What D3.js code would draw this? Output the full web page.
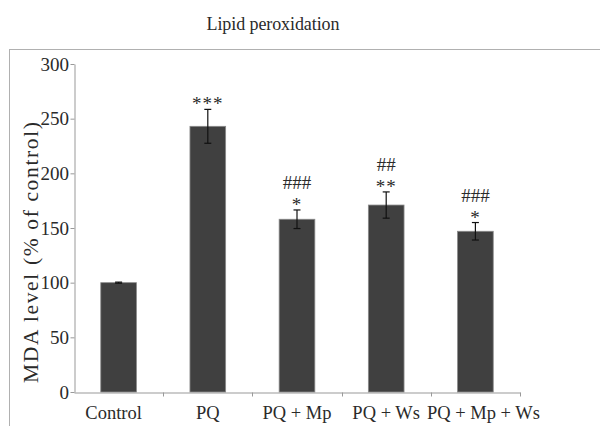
<!DOCTYPE html>
<html>
<head>
<meta charset="utf-8">
<script src="https://cdn.jsdelivr.net/npm/d3@7"></script>
<style>
  body { margin: 0; background: #fff; }
  text { font-family: "Liberation Serif", "Times New Roman", serif; fill: #2a2a2a; }
</style>
</head>
<body>
<script>
// data
const a_groups = ["Control", "PQ", "PQ + Mp", "PQ + Ws", "PQ + Mp + Ws"];
const a_means = [100, 243, 158, 171, 147];
const a_errors = [0.5, 15.5, 8.5, 12, 8];
const a_stars = ["", "***", "*", "**", "*"];
const a_hashes = ["", "", "###", "##", "###"];
const a_y_ticks = [0, 50, 100, 150, 200, 250, 300];

const v_width = 600, v_height = 426;
const d_plot = {left: 74, right: 520, top: 64, bottom: 392};
const v_font = "'Liberation Serif', 'Times New Roman', serif";

const svg = d3.select("body").append("svg")
    .attr("width", v_width)
    .attr("height", v_height);

// outer frame (only left and top edges are inside the window)
svg.append("rect")
    .attr("x", 9.5).attr("y", 49.5)
    .attr("width", 700).attr("height", 500)
    .attr("fill", "none")
    .attr("stroke", "#b0b0b0");

svg.append("text")
    .attr("x", 273).attr("y", 30)
    .attr("text-anchor", "middle")
    .attr("textLength", 133)
    .attr("lengthAdjust", "spacing")
    .style("font-size", "18px")
    .text("Lipid peroxidation");

var x_bc = d3.scaleBand().domain(a_groups).range([d_plot.left, d_plot.right]);
var y_bc = d3.scaleLinear().domain([0, 300]).range([d_plot.bottom, d_plot.top]);

// y axis
const y_axis_group = svg.append("g")
    .attr("transform", `translate(${d_plot.left + 0.5}, 0)`)
    .call(d3.axisLeft(y_bc).tickValues(a_y_ticks).tickSize(4).tickPadding(1.5).tickSizeOuter(0));
y_axis_group.attr("font-family", v_font);
y_axis_group.select(".domain").attr("stroke", "#999");
y_axis_group.selectAll(".tick line").attr("stroke", "#999");
y_axis_group.selectAll(".tick text")
    .style("font-size", "19px");

// x axis, labels at band centres, tick marks at band edges
const x_axis_group = svg.append("g")
    .attr("transform", `translate(0, ${d_plot.bottom + 0.5})`)
    .call(d3.axisBottom(x_bc).tickSize(0).tickPadding(13).tickSizeOuter(0));
x_axis_group.attr("font-family", v_font);
x_axis_group.select(".domain").attr("stroke", "#999");
x_axis_group.selectAll(".tick text")
    .style("font-size", "18.5px")
    .attr("dx", function(d, i) {
        // first and last labels sit slightly off centre in the original
        if (i == 0) return -5;
        if (i == a_groups.length - 1) return 8;
        return 0;
    });

x_axis_group.selectAll(".edge")
    .data(a_groups.slice(1).concat(["end"]))
    .enter().append("line")
    .attr("class", "edge")
    .attr("x1", function(d, i) { return Math.round(d_plot.left + x_bc.step() * (i + 1)) + 0.5; })
    .attr("x2", function(d, i) { return Math.round(d_plot.left + x_bc.step() * (i + 1)) + 0.5; })
    .attr("y1", 0).attr("y2", 4)
    .attr("stroke", "#999");

var v_bar_w = x_bc.bandwidth() * 0.4;

// bars
svg.selectAll(".bar")
    .data(a_means)
    .enter().append("rect")
    .attr("class", "bar")
    .attr("x", function(d, i) { return x_bc(a_groups[i]) + x_bc.bandwidth() / 2 - v_bar_w / 2; })
    .attr("y", function(d) { return y_bc(d); })
    .attr("width", v_bar_w)
    .attr("height", function(d) { return y_bc(0) - y_bc(d); })
    .attr("fill", "#404040")
    .attr("stroke", "#8a8a8a")
    .attr("stroke-width", 0.8);

// error bars
const g_err = svg.append("g").attr("stroke", "#111").attr("stroke-width", 1.2);
a_means.forEach(function(v, i) {
    var cx = x_bc(a_groups[i]) + x_bc.bandwidth() / 2;
    var y_top = y_bc(v + a_errors[i]), y_bot = y_bc(v - a_errors[i]);
    g_err.append("line").attr("x1", cx).attr("x2", cx).attr("y1", y_top).attr("y2", y_bot);
    g_err.append("line").attr("x1", cx - 3.5).attr("x2", cx + 3.5).attr("y1", y_top).attr("y2", y_top);
    g_err.append("line").attr("x1", cx - 3.5).attr("x2", cx + 3.5).attr("y1", y_bot).attr("y2", y_bot);
});

// significance marks
svg.selectAll(".star")
    .data(a_stars)
    .enter().append("text")
    .attr("class", "star")
    .attr("x", function(d, i) { return x_bc(a_groups[i]) + x_bc.bandwidth() / 2; })
    .attr("y", function(d, i) { return y_bc(a_means[i] + a_errors[i]) + 1; })
    .attr("text-anchor", "middle")
    .style("font-size", "19px")
    .style("letter-spacing", "1px")
    .text(function(d) { return d; });

svg.selectAll(".hash")
    .data(a_hashes)
    .enter().append("text")
    .attr("class", "hash")
    .attr("x", function(d, i) { return x_bc(a_groups[i]) + x_bc.bandwidth() / 2; })
    .attr("y", function(d, i) { return y_bc(a_means[i] + a_errors[i]) - 21; })
    .attr("text-anchor", "middle")
    .style("font-size", "19px")
    .text(function(d) { return d; });

// y axis title
svg.append("text")
    .attr("transform", `translate(37.5, 252.5) rotate(-90)`)
    .attr("text-anchor", "middle")
    .attr("textLength", 261)
    .attr("lengthAdjust", "spacing")
    .style("font-size", "21.5px")
    .text("MDA level (% of control)");
</script>
</body>
</html>
